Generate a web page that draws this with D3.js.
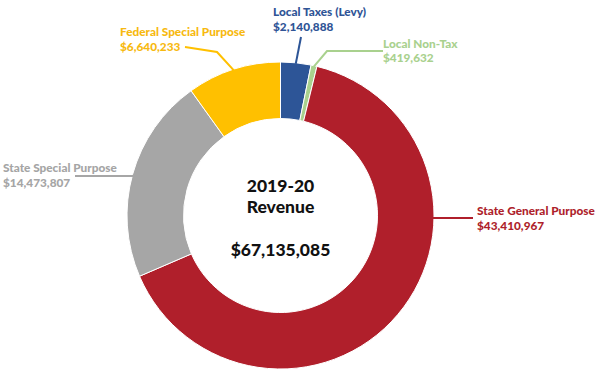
<!DOCTYPE html>
<html>
<head>
<meta charset="utf-8">
<script src="https://cdn.jsdelivr.net/npm/d3@7"></script>
<style>
  html, body { margin: 0; padding: 0; background: #fff; }
  svg { display: block; }
  text { font-family: Lato, "Open Sans", sans-serif; font-weight: 900; }
</style>
</head>
<body>
<svg id="chart" width="600" height="389"></svg>
<script>
// ---- data ----
const categories = ["Local Taxes (Levy)", "Local Non-Tax", "State General Purpose", "State Special Purpose", "Federal Special Purpose"];
const values = [2140888, 419632, 43410967, 14473807, 6640233];
const sliceColors = ["#2d5597", "#a9d18e", "#b01f2b", "#a6a6a6", "#ffc000"];
const labelColors = ["#2f5496", "#a9d18e", "#ae1f2c", "#a5a5a5", "#f7b910"];
const centerLines = ["2019-20", "Revenue"];
const totalLabel = "$67,135,085";

// ---- layout ----
const cx = 280.5, cy = 215.5, rOuter = 153.5, rInner = 97;
const fmt = d3.format("$,");

const svg = d3.select("#chart");
const g = svg.append("g").attr("transform", `translate(${cx},${cy})`);

const pie = d3.pie().sort(null).value(d => d);
const arcs = pie(values);
const arc = d3.arc().innerRadius(rInner).outerRadius(rOuter);

g.selectAll("path.slice")
  .data(arcs)
  .enter().append("path")
  .attr("class", "slice")
  .attr("d", arc)
  .attr("fill", (d, i) => sliceColors[i])
  .attr("stroke", "#fff")
  .attr("stroke-width", 1);

function edge(a, r) { return [cx + r * Math.sin(a), cy - r * Math.cos(a)]; }
const mid = d => (d.startAngle + d.endAngle) / 2;

const labelLayout = [
  { x: 273, y: 16, anchorAngle: mid(arcs[0]), pts: [[301, 37]] },
  { x: 383, y: 47.5, anchorAngle: mid(arcs[1]), pts: [[327, 51], [383, 51]] },
  { x: 477, y: 215, anchorAngle: Math.PI / 2 + 0.012, pts: [[473, 218]] },
  { x: 3, y: 172, anchorAngle: mid(arcs[3]), pts: [[75, 176]] },
  { x: 120, y: 36, anchorAngle: mid(arcs[4]), pts: [[217, 52], [185, 47]] }
];

const line = d3.line();
labelLayout.forEach((L, i) => {
  let start = edge(L.anchorAngle, rOuter - 1);
  if (i === 2 || i === 3) start = [start[0], L.pts[0][1]];
  svg.append("path")
    .attr("d", line([start, ...L.pts]))
    .attr("fill", "none")
    .attr("stroke", sliceColors[i])
    .attr("stroke-width", 2);
  const t = svg.append("text")
    .attr("x", L.x).attr("y", L.y)
    .attr("fill", labelColors[i])
    .attr("font-size", 11.8);
  t.append("tspan").attr("x", L.x).text(categories[i]);
  t.append("tspan").attr("x", L.x).attr("dy", 14.5).text(fmt(values[i]));
});

const c = svg.append("g").attr("text-anchor", "middle").attr("fill", "#111");
c.append("text").attr("x", cx).attr("y", 192).attr("font-size", 17.5).text(centerLines[0]);
c.append("text").attr("x", cx).attr("y", 213).attr("font-size", 17.5).text(centerLines[1]);
c.append("text").attr("x", cx).attr("y", 256).attr("font-size", 17.5).text(totalLabel);
</script>
</body>
</html>
